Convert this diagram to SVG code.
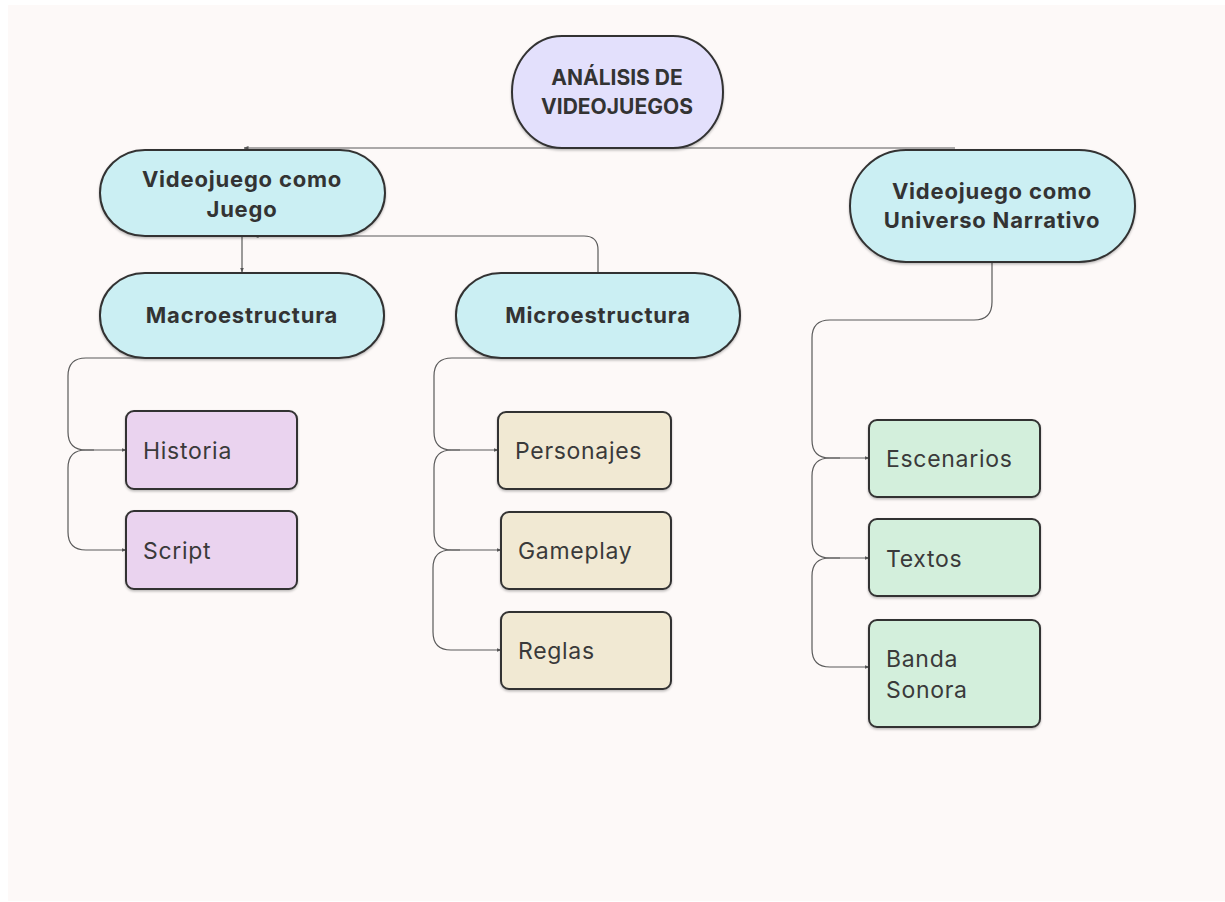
<svg xmlns="http://www.w3.org/2000/svg" width="1225" height="902" viewBox="0 0 1225 902">
<defs>
<marker id="arr" viewBox="0 0 10 10" refX="9" refY="5" markerWidth="5" markerHeight="5" orient="auto" markerUnits="userSpaceOnUse">
<path d="M0,1 L10,5 L0,9 z" fill="#555"/>
</marker>
<filter id="sh" x="-10%" y="-10%" width="120%" height="130%">
<feDropShadow dx="0" dy="1.5" stdDeviation="1" flood-color="#000" flood-opacity="0.25"/>
</filter>
</defs>
<style>
.bg{fill:#fdf9f8}
.n{stroke:#333;stroke-width:2;filter:url(#sh)}
.root{fill:#e3e0fc}
.cy{fill:#cbeff3}
.pu{fill:#ead3ef}
.be{fill:#f1e9d3}
.gr{fill:#d3efdc}
.c{fill:none;stroke:#5a5a5a;stroke-width:1.2}
.tb{font-family:Inter,"Liberation Sans",sans-serif;font-weight:700;font-size:22px;letter-spacing:0.8px;fill:#333;text-anchor:middle}
.tr{font-family:Inter,"Liberation Sans",sans-serif;font-weight:700;font-size:21px;fill:#333;text-anchor:middle}
.t{font-family:Inter,"Liberation Sans",sans-serif;font-weight:400;font-size:23px;letter-spacing:0.7px;fill:#3a3a3a}
</style>
<rect class="bg" x="8" y="5" width="1217" height="896"/>

<g id="connectors">
<path class="c" d="M612,148 H244" marker-end="url(#arr)"/>
<path class="c" d="M612,148 H955"/>
<path class="c" d="M242,236 V272" marker-end="url(#arr)"/>
<path class="c" d="M598,272 V250 Q598,236 584,236 H254" marker-end="url(#arr)"/>
<path class="c" d="M240,358 H86 Q68,358 68,376 V432 Q68,450 86,450 H126" marker-end="url(#arr)"/>
<path class="c" d="M94,450 H86 Q68,450 68,468 V532 Q68,550 86,550 H126" marker-end="url(#arr)"/>
<path class="c" d="M598,358 H452 Q434,358 434,376 V432 Q434,450 452,450 H498" marker-end="url(#arr)"/>
<path class="c" d="M460,450 H452 Q434,450 434,468 V532 Q434,550 452,550 H501" marker-end="url(#arr)"/>
<path class="c" d="M460,550 H451 Q433,550 433,568 V632 Q433,650 451,650 H501" marker-end="url(#arr)"/>
<path class="c" d="M992,262 V302 Q992,320 974,320 H830 Q812,320 812,338 V440 Q812,458 830,458 H869" marker-end="url(#arr)"/>
<path class="c" d="M840,458 H830 Q812,458 812,476 V540 Q812,558 830,558 H869" marker-end="url(#arr)"/>
<path class="c" d="M840,558 H830 Q812,558 812,576 V649 Q812,667 830,667 H869" marker-end="url(#arr)"/>
</g>

<g id="root">
<rect class="n root" x="512" y="36" width="211" height="112" rx="50" ry="56"/>
<text class="tr" x="617" y="85">ANÁLISIS DE</text>
<text class="tr" x="617" y="114">VIDEOJUEGOS</text>
</g>

<g id="juego">
<rect class="n cy" x="100" y="150" width="285" height="86" rx="45" ry="43"/>
<text class="tb" x="242" y="187">Videojuego como</text>
<text class="tb" x="242" y="217">Juego</text>
</g>

<g id="universo">
<rect class="n cy" x="850" y="150" width="285" height="112" rx="56" ry="56"/>
<text class="tb" x="992" y="199">Videojuego como</text>
<text class="tb" x="992" y="228">Universo Narrativo</text>
</g>

<g id="macro">
<rect class="n cy" x="100" y="273" width="284" height="85" rx="45" ry="42"/>
<text class="tb" x="242" y="323">Macroestructura</text>
</g>

<g id="micro">
<rect class="n cy" x="456" y="273" width="284" height="85" rx="45" ry="42"/>
<text class="tb" x="598" y="323">Microestructura</text>
</g>

<g id="historia">
<rect class="n pu" x="126" y="411" width="171" height="78" rx="8"/>
<text class="t" x="143" y="459">Historia</text>
</g>
<g id="script">
<rect class="n pu" x="126" y="511" width="171" height="78" rx="8"/>
<text class="t" x="143" y="559">Script</text>
</g>

<g id="personajes">
<rect class="n be" x="498" y="412" width="173" height="77" rx="8"/>
<text class="t" x="515" y="459">Personajes</text>
</g>
<g id="gameplay">
<rect class="n be" x="501" y="512" width="170" height="77" rx="8"/>
<text class="t" x="518" y="559">Gameplay</text>
</g>
<g id="reglas">
<rect class="n be" x="501" y="612" width="170" height="77" rx="8"/>
<text class="t" x="518" y="659">Reglas</text>
</g>

<g id="escenarios">
<rect class="n gr" x="869" y="420" width="171" height="77" rx="8"/>
<text class="t" x="886" y="467">Escenarios</text>
</g>
<g id="textos">
<rect class="n gr" x="869" y="519" width="171" height="77" rx="8"/>
<text class="t" x="886" y="567">Textos</text>
</g>
<g id="banda">
<rect class="n gr" x="869" y="620" width="171" height="107" rx="8"/>
<text class="t" x="886" y="667">Banda</text>
<text class="t" x="886" y="698">Sonora</text>
</g>
</svg>
